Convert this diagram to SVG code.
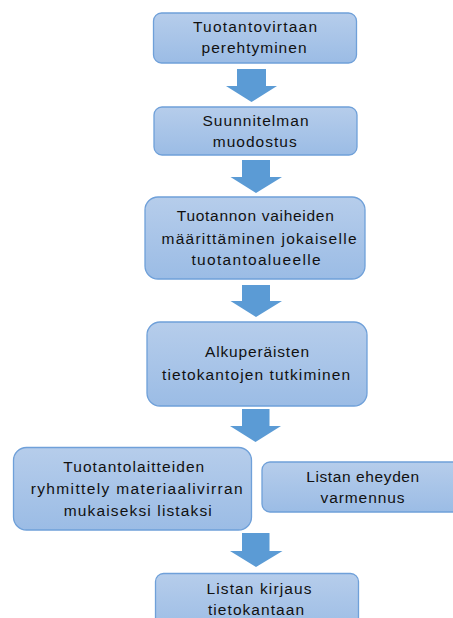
<svg xmlns="http://www.w3.org/2000/svg" width="453" height="618" viewBox="0 0 453 618">
<defs>
<linearGradient id="g" x1="0" y1="0" x2="0" y2="1">
<stop offset="0" stop-color="#b6cdeb"/>
<stop offset="1" stop-color="#9bbce5"/>
</linearGradient>
<style>
.box{fill:url(#g);stroke:#6fa0d9;stroke-width:1.3}
.t{font-family:"Liberation Sans",Arial,sans-serif;font-size:15.5px;fill:#111;text-anchor:middle}
.ar{fill:#5b9bd5}
</style>
</defs>
<rect width="453" height="618" fill="#fff"/>
<g id="connectors">
<path class="ar" d="M237 69H266V86H277L251.5 102L226 86H237Z"/>
<path class="ar" d="M242 160H270V177H282L256 193L230.5 177H242Z"/>
<path class="ar" d="M242 285H270V301H282L256 317L230.5 301H242Z"/>
<path class="ar" d="M242 409H269.5V426H281L255.5 442L230 426H242Z"/>
<path class="ar" d="M242 533H269.5V551H282.5L256 567L230 551H242Z"/>
</g>
<g id="n1">
<rect class="box" x="153.5" y="13" width="203" height="50" rx="8"/>
<text class="t" x="255" y="31.5" textLength="124" lengthAdjust="spacing">Tuotantovirtaan</text>
<text class="t" x="254" y="52.5" textLength="105" lengthAdjust="spacing">perehtyminen</text>
</g>
<g id="n2">
<rect class="box" x="154" y="107" width="203" height="48" rx="8"/>
<text class="t" x="255.5" y="126" textLength="106" lengthAdjust="spacing">Suunnitelman</text>
<text class="t" x="254.7" y="147" textLength="84" lengthAdjust="spacing">muodostus</text>
</g>
<g id="n3">
<rect class="box" x="145" y="197" width="220" height="82" rx="13"/>
<text class="t" x="255.3" y="221" textLength="157" lengthAdjust="spacing">Tuotannon vaiheiden</text>
<text class="t" x="259" y="243.5" textLength="195" lengthAdjust="spacing">määrittäminen jokaiselle</text>
<text class="t" x="256" y="265" textLength="129" lengthAdjust="spacing">tuotantoalueelle</text>
</g>
<g id="n4">
<rect class="box" x="147" y="322" width="220" height="84" rx="13"/>
<text class="t" x="257" y="357" textLength="104" lengthAdjust="spacing">Alkuperäisten</text>
<text class="t" x="256" y="380" textLength="188" lengthAdjust="spacing">tietokantojen tutkiminen</text>
</g>
<g id="n5">
<rect class="box" x="13.5" y="447.5" width="238" height="82.5" rx="13"/>
<text class="t" x="133.7" y="472" textLength="141" lengthAdjust="spacing">Tuotantolaitteiden</text>
<text class="t" x="136.7" y="493.5" textLength="212" lengthAdjust="spacing">ryhmittely materiaalivirran</text>
<text class="t" x="137.8" y="516" textLength="148" lengthAdjust="spacing">mukaiseksi listaksi</text>
</g>
<g id="n6">
<rect class="box" x="262" y="462" width="202" height="50" rx="8"/>
<text class="t" x="362.7" y="482" textLength="113" lengthAdjust="spacing">Listan eheyden</text>
<text class="t" x="362.5" y="503" textLength="84" lengthAdjust="spacing">varmennus</text>
</g>
<g id="n7">
<rect class="box" x="155.5" y="573.5" width="203" height="60" rx="8"/>
<text class="t" x="259" y="594" textLength="105" lengthAdjust="spacing">Listan kirjaus</text>
<text class="t" x="256" y="615" textLength="96" lengthAdjust="spacing">tietokantaan</text>
</g>
</svg>
